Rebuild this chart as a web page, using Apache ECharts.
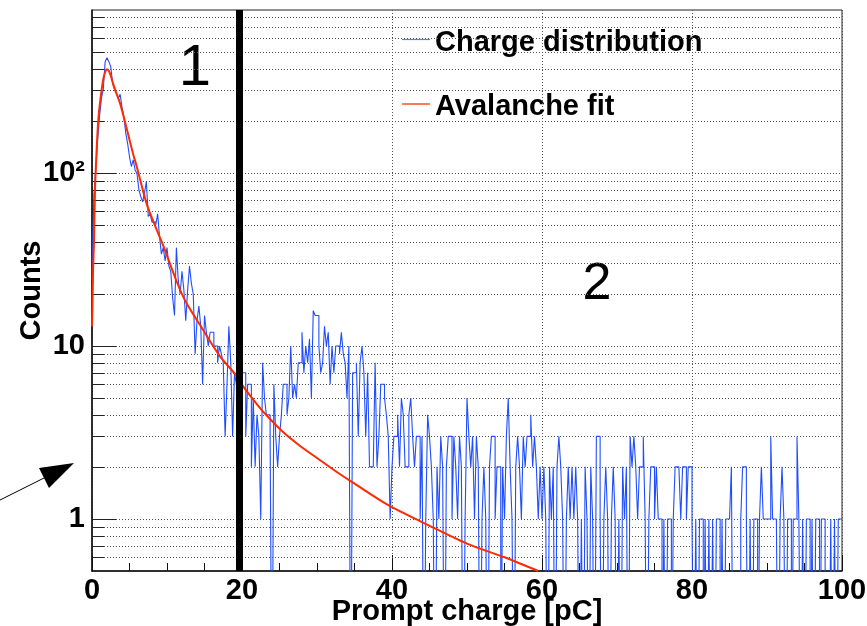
<!DOCTYPE html>
<html><head><meta charset="utf-8">
<script src="https://cdn.jsdelivr.net/npm/echarts@6/dist/echarts.min.js"></script>
<style>html,body{margin:0;padding:0;background:#fff}#c{width:867px;height:626px}</style>
</head><body><div id="c"></div>
<script>
// ---- data (histogram: 0.25 pC bins) ----
const binWidth = 0.25;
const counts0to20 = [24,75,104,155,211,270,303,440,463,440,412,330,303,289,270,285,240,211,170,148,
  124,109,119,104,99,80,73,68,77,89,56,58,52,52,50,58,43,34,37,31,
  37,29,27,19,15,37,24,20,27,21,14,21,29,23,20,9,14,17,13,6,
  15,12,10,12,12,10,10,8,10,9,8,3,6,13,8,3,7,6,5,4];
const counts20to40 = [7,7,3,6,6,2,5,2,4,3,1,8,5,4,4,3,0,6,3,2,
  3,4,6,6,4,5,10,5,6,5,8,8,12,7,10,8,11,5,16,15,
  15,10,7,8,13,10,12,6,10,7,10,10,9,12,9,8,5,10,0,7,
  7,8,3,8,10,7,3,7,2,2,2,8,2,3,6,6,5,4,3,1];
const counts40to60 = [2,3,3,4,2,5,4,2,2,4,5,3,2,3,3,1,3,0,1,4,
  3,2,1,0,2,1,3,2,0,2,3,3,1,3,2,1,3,2,0,1,
  5,3,2,3,1,3,2,0,1,2,1,0,2,3,3,1,2,2,0,2,
  1,3,5,2,1,0,2,3,2,1,3,2,3,3,4,2,3,2,1,2];
const counts60to80 = [1,2,1,0,2,1,2,0,2,3,2,1,0,1,2,1,2,1,2,1,
  0,1,0,2,1,0,2,1,0,3,3,1,0,1,2,1,0,1,2,1,
  0,1,0,2,1,2,0,3,2,3,2,1,2,2,3,1,0,1,2,2,
  1,2,1,1,0,1,0,1,1,0,1,2,2,2,1,2,2,1,2,2];
const counts80to100 = [1,0,1,0,1,1,0,1,0,1,0,1,0,1,1,0,1,0,1,1,
  1,2,0,0,0,0,1,2,2,1,0,1,0,1,1,0,1,2,1,1,
  1,1,3,1,1,1,0,1,2,1,0,1,1,0,1,1,3,1,0,1,
  0,1,1,0,1,0,1,1,0,1,1,0,0,0,1,0,1,0,1,1];

// ---- fit curve ----
const fitX = [0,0.05,0.15,0.27,0.4,0.62,0.84,1.16,1.51,1.75,1.96,2.2,2.5,2.84,3.3,3.73,4.18,4.62,5.5,5.96,
  7.3,8.62,9.5,11.3,12.5,14.8,17.07,19.3,20.2,22,23.2,25.4,27.7,30,32.4,34.8,39.5,44.2,50,55,59.5];
const fitY = [13,16,28,41,80,136,203,275,350,382,398,392,365,325,285,253,215,181,128,109,
  66,47,38,23.5,18,12.4,8.7,6.7,5.8,4.6,4.0,3.2,2.65,2.25,1.9,1.62,1.2,0.95,0.72,0.6,0.5];

// ---- axes / labels ----
const xTickInterval = 20;
const yGridValues = [0.6,0.7,0.8,0.9,1,2,3,4,5,6,7,8,9,10,20,30,40,50,60,70,80,90,100,200,300,400,500,600,700,800];
const legendLabels = ['Charge distribution', 'Avalanche fit'];
const regionLabels = ['1', '2'];
const cutPosition = 19.7;
const xTitle = 'Prompt charge [pC]';
const yTitle = 'Counts';

// ---- build ----
const FONT = "'Liberation Sans', Arial, Helvetica, sans-serif";
const counts = [].concat(counts0to20, counts20to40, counts40to60, counts60to80, counts80to100);
const belowAxis = 0.05; // empty bins drop below the log axis floor (clipped)
const histData = [];
counts.forEach((c, i) => {
  const v = c > 0 ? c : belowAxis;
  histData.push([i * binWidth, v], [(i + 1) * binWidth, v]);
});
const fitData = fitX.map((x, i) => [x, fitY[i]]);

function isDecade(v) { const e = Math.log10(v); return Math.abs(e - Math.round(e)) < 1e-6; }

function gridRender(params, api) {
  const v = api.value(1);
  const a = api.coord([0, v]);
  const b = api.coord([100, v]);
  const y = Math.round(a[1]) + 0.5;
  const major = isDecade(v);
  return { type: 'group', children: [
    { type: 'line', shape: { x1: a[0], y1: y, x2: b[0], y2: y }, style: { stroke: '#555', lineWidth: 1, lineDash: [1, 2] } },
    { type: 'line', shape: { x1: a[0], y1: y, x2: a[0] + (major ? 24 : 12), y2: y }, style: { stroke: '#222', lineWidth: 1 } }
  ]};
}

const chart = echarts.init(document.getElementById('c'), null, { renderer: 'canvas' });
chart.setOption({
  animation: false,
  backgroundColor: '#fff',
  grid: { left: 92, right: 25, top: 10, bottom: 55, containLabel: false, outerBoundsMode: 'none',
    show: true, borderColor: '#222', borderWidth: 1 },
  xAxis: {
    type: 'value', min: 0, max: 100, interval: xTickInterval,
    axisLine: { onZero: false, lineStyle: { color: '#111', width: 1.5 } },
    axisTick: { inside: true, length: 16, lineStyle: { color: '#111' } },
    minorTick: { show: true, splitNumber: 4, length: 8, lineStyle: { color: '#111' } },
    splitLine: { show: true, lineStyle: { color: '#555', type: [1, 2], width: 1 } },
    axisLabel: { fontFamily: FONT, fontWeight: 'bold', fontSize: 29, color: '#000', margin: 5 },
    name: xTitle, nameLocation: 'middle', nameGap: 26, nameMoveOverlap: false,
    nameTextStyle: { fontFamily: FONT, fontWeight: 'bold', fontSize: 29, color: '#000' }
  },
  yAxis: {
    type: 'log', logBase: 10, min: 0.5, max: 875,
    axisLine: { show: true, lineStyle: { color: '#111', width: 1.5 } },
    axisTick: { show: false },
    splitLine: { show: false },
    axisLabel: {
      fontFamily: FONT, fontWeight: 'bold', fontSize: 29, color: '#000', margin: 7,
      showMinLabel: false, showMaxLabel: false,
      formatter: function (v) {
        if (!isDecade(v)) return '';
        const n = Math.round(Math.log10(v));
        return n === 2 ? '10²' : n === 1 ? '10' : n === 0 ? '1' : '';
      }
    },
    name: yTitle, nameLocation: 'middle', nameGap: 46, nameRotate: 90, nameMoveOverlap: false,
    nameTextStyle: { fontFamily: FONT, fontWeight: 'bold', fontSize: 29, color: '#000' }
  },
  series: [
    { type: 'custom', renderItem: gridRender, data: yGridValues.map(v => [0, v]), encode: { x: 0, y: 1 }, silent: true, z: 1 },
    { type: 'line', name: legendLabels[0], data: histData, showSymbol: false, clip: true,
      lineStyle: { color: '#1f4dff', width: 1.1 }, z: 3 },
    { type: 'line', name: legendLabels[1], data: fitData, smooth: 0.3, showSymbol: false, clip: true,
      lineStyle: { color: '#ff2a00', width: 2 }, z: 4 },
    { type: 'line', data: [[cutPosition, 1]], showSymbol: false, lineStyle: { opacity: 0 }, z: 10,
      markLine: { symbol: 'none', silent: true, label: { show: false }, animation: false,
        lineStyle: { color: '#000', width: 7, type: 'solid' }, data: [{ xAxis: cutPosition }] } }
  ],
  graphic: [
    { type: 'line', shape: { x1: 402, y1: 39.5, x2: 430, y2: 39.5 }, style: { stroke: '#5a78ff', lineWidth: 1.2 } },
    { type: 'text', x: 435, y: 43, style: { text: legendLabels[0], font: 'bold 29px ' + FONT, fill: '#000', verticalAlign: 'middle' } },
    { type: 'line', shape: { x1: 402, y1: 104, x2: 430, y2: 104 }, style: { stroke: '#ff4a20', lineWidth: 1.5 } },
    { type: 'text', x: 435, y: 107, style: { text: legendLabels[1], font: 'bold 29px ' + FONT, fill: '#000', verticalAlign: 'middle' } },
    { type: 'text', x: 195, y: 69, style: { text: regionLabels[0], font: '58px ' + FONT, fill: '#000', align: 'center', verticalAlign: 'middle' } },
    { type: 'text', x: 597, y: 285, style: { text: regionLabels[1], font: '52px ' + FONT, fill: '#000', align: 'center', verticalAlign: 'middle' } },
    { type: 'polyline', shape: { points: [[0, 500], [46, 477]] }, style: { stroke: '#000', lineWidth: 1 } },
    { type: 'polygon', shape: { points: [[74, 463], [39, 468], [49, 488]] }, style: { fill: '#000' } }
  ]
});
</script></body></html>
